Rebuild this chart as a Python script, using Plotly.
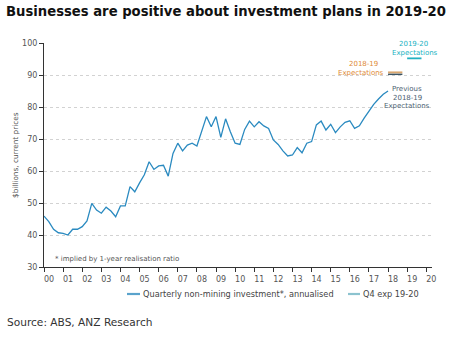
import plotly.graph_objects as go

# ---------------- data ----------------
start_year = 2000
investment = [45.9, 44.2, 41.8, 40.7, 40.5, 40.0, 41.8, 41.8, 42.6, 44.4,
              49.9, 47.8, 46.8, 48.7, 47.5, 45.7, 49.1, 49.1, 55.1, 53.5,
              56.3, 58.8, 62.9, 60.5, 61.6, 61.8, 58.4, 65.5, 68.7, 66.3,
              68.1, 68.7, 67.8, 72.6, 77.0, 73.8, 77.0, 70.5, 76.3, 72.3,
              68.7, 68.3, 73.0, 75.6, 73.8, 75.4, 74.1, 73.3, 69.7, 68.3,
              66.3, 64.7, 65.0, 67.3, 65.7, 68.7, 69.2, 74.4, 75.6, 72.8,
              74.6, 72.0, 73.8, 75.2, 75.7, 73.3, 74.1, 76.5, 78.8, 80.8,
              82.5, 84.0, 85.0]
quarters = [start_year + i / 4 for i in range(len(investment))]

exp_1920_x = [2019.0, 2019.75]
exp_1920_y = [95.2, 95.2]
exp_1819_x = [2018.0, 2018.75]
exp_1819_y = [90.8, 90.8]
prev_1819_x = [2018.0, 2018.75]
prev_1819_y = [90.2, 90.2]

year_ticks = list(range(2000, 2021))
year_labels = [f"{y % 100:02d}" for y in year_ticks]
y_ticks = [30, 40, 50, 60, 70, 80, 90, 100]

# ---------------- styling ----------------
W, H = 462, 339
L, R, T, B = 44, 30, 43, 72
PW, PH = W - L - R, H - T - B
FONT = "DejaVu Sans"
BLUE = "#2a8ac0"
TEAL = "#22b2c2"
TAN = "#d9a66e"
DARK = "#3a5566"


def px(x):
    return (x - L) / PW


def py(y):
    return 1 - (y - T) / PH


fig = go.Figure()
fig.add_trace(go.Scatter(x=quarters, y=investment, mode="lines",
                         line=dict(color=BLUE, width=1.3), showlegend=False,
                         name="Quarterly non-mining investment*, annualised"))
fig.add_trace(go.Scatter(x=exp_1920_x, y=exp_1920_y, mode="lines",
                         line=dict(color=TEAL, width=1.8), showlegend=False,
                         name="Q4 exp 19-20"))
fig.add_trace(go.Scatter(x=exp_1819_x, y=exp_1819_y, mode="lines",
                         line=dict(color=TAN, width=2), showlegend=False))
fig.add_trace(go.Scatter(x=prev_1819_x, y=prev_1819_y, mode="lines",
                         line=dict(color=DARK, width=1.4), showlegend=False))

fig.update_xaxes(range=[2000, 2020.3], tickvals=year_ticks, ticktext=year_labels,
                 ticks="outside", ticklen=4, tickcolor="#333", showline=True,
                 linecolor="#333", linewidth=1, showgrid=False, zeroline=False,
                 ticklabelshift=5,
                 tickfont=dict(family=FONT, size=8, color="#555"))
fig.update_yaxes(range=[30, 100], tickvals=y_ticks, ticks="outside", ticklen=4,
                 tickcolor="#333", showline=True, linecolor="#333", linewidth=1,
                 showgrid=True, gridcolor="#d2d2d2", griddash="dot", gridwidth=1,
                 zeroline=False, tickfont=dict(family=FONT, size=8, color="#555"))

ann = []
ann.append(dict(text="<b>Businesses are positive about investment plans in 2019-20</b>",
                x=px(4), y=py(12), xanchor="left", yanchor="middle",
                font=dict(family=FONT, size=13.2, color="#111")))
ann.append(dict(text="$billions, current prices", textangle=-90,
                x=px(15), y=py(155), xanchor="center", yanchor="middle",
                font=dict(family=FONT, size=7.3, color="#555")))
ann.append(dict(text="* implied by 1-year realisation ratio",
                x=px(53), y=py(259), xanchor="left", yanchor="middle",
                font=dict(family=FONT, size=7, color="#555")))
ann.append(dict(text="Source: ABS, ANZ Research",
                x=px(5), y=py(322), xanchor="left", yanchor="middle",
                font=dict(family=FONT, size=10.6, color="#333")))
# expectation labels
ann.append(dict(text="2019-20", x=px(413), y=py(44), xanchor="center", yanchor="middle",
                font=dict(family=FONT, size=7, color=TEAL)))
ann.append(dict(text="Expectations", x=px(390), y=py(53), xanchor="left", yanchor="middle",
                font=dict(family=FONT, size=7, color=TEAL)))
ann.append(dict(text="2018-19", x=px(363), y=py(64), xanchor="center", yanchor="middle",
                font=dict(family=FONT, size=7, color="#e08a35")))
ann.append(dict(text="Expectations", x=px(386), y=py(73), xanchor="right", yanchor="middle",
                font=dict(family=FONT, size=7, color="#e08a35")))
ann.append(dict(text="Previous", x=px(407), y=py(89), xanchor="center", yanchor="middle",
                font=dict(family=FONT, size=7, color="#4d6272")))
ann.append(dict(text="2018-19", x=px(407), y=py(97.5), xanchor="center", yanchor="middle",
                font=dict(family=FONT, size=7, color="#4d6272")))
ann.append(dict(text="Expectations", x=px(407), y=py(106.5), xanchor="center", yanchor="middle",
                font=dict(family=FONT, size=7, color="#4d6272")))
# legend text
ann.append(dict(text="Quarterly non-mining investment*, annualised",
                x=px(141), y=py(294), xanchor="left", yanchor="middle",
                font=dict(family=FONT, size=8.2, color="#444")))
ann.append(dict(text="Q4 exp 19-20",
                x=px(361), y=py(294), xanchor="left", yanchor="middle",
                font=dict(family=FONT, size=8.2, color="#444")))
for a in ann:
    a.update(xref="paper", yref="paper", showarrow=False)

shapes = [
    dict(type="line", xref="paper", yref="paper", x0=px(127), x1=px(140),
         y0=py(294), y1=py(294), line=dict(color="#5aa3cc", width=2.2)),
    dict(type="line", xref="paper", yref="paper", x0=px(348), x1=px(360),
         y0=py(294), y1=py(294), line=dict(color="#8cc3cf", width=2.2)),
]

fig.update_layout(width=W, height=H, margin=dict(l=L, r=R, t=T, b=B),
                  paper_bgcolor="white", plot_bgcolor="white",
                  annotations=ann, shapes=shapes, showlegend=False)

fig.write_html("out.html")
